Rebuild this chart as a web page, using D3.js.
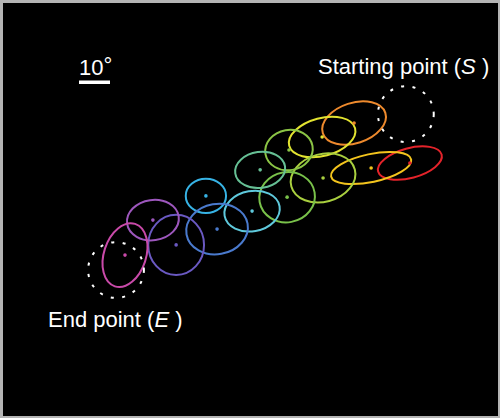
<!DOCTYPE html>
<html lang="en">
<head>
	<meta charset="UTF-8" />
	<script src="https://d3js.org/d3.v7.min.js"></script>
	<style type="text/css">
		body { margin: 0; background: #fff; }
		text { font-family: "Liberation Sans", Arial, Helvetica, sans-serif; fill: #fff; }
	</style>
	<title>Gaze path</title>
</head>
<body>
<script type="text/javascript">
	// Fixation ellipses, in degrees of visual angle (origin at end point, y up)
	var fixCx    = [94.8, 76.8, 82.3, 66.5, 66.8, 55.8, 55.2, 46.5, 43.9, 29.0, 32.6, 19.4, 11.9, 2.9];
	var fixCy    = [34.5, 47.4, 32.9, 42.9, 29.7, 38.7, 23.5, 32.3, 19.0, 23.9, 13.2, 8.1, 16.1, 4.8];
	var fixRx    = [10.6, 10.6, 13.2, 11.0, 10.6, 7.7, 9.0, 8.1, 9.0, 6.5, 10.0, 9.0, 8.4, 10.6];
	var fixRy    = [4.8, 6.5, 4.5, 6.1, 7.7, 6.5, 8.1, 5.8, 6.5, 5.5, 8.1, 9.7, 6.5, 6.8];
	var fixAngle = [15, 18, 12, 15, 15, 10, 10, 8, 10, 0, 10, 0, 8, 72];

	// Start and end points
	var pointNames = ["S", "E"];
	var pointX = [93.5, 0];
	var pointY = [50.3, 0];
	var pointR = [9.0, 9.0];

	// Scale bar length (degrees)
	var scaleBarDeg = 10;

	var W = 500, H = 418;

	var colors = ["#e4232a", "#ee8a2d", "#f3c41d", "#e2e330", "#a9cf3f", "#8bc445",
	              "#79c14a", "#66c095", "#5fc9dc", "#37b3e5", "#4a7acd", "#6a59c2",
	              "#9d57bd", "#c94aa9"];

	// 3.1 px per degree
	var xScale = d3.scaleLinear().domain([0, 100]).range([116, 426]);
	var yScale = d3.scaleLinear().domain([0, 100]).range([270, -40]);
	function len(d) { return xScale(d) - xScale(0); }

	var svg = d3.select("body").append("svg")
		.attr("width", W)
		.attr("height", H);

	// frame
	svg.append("rect")
		.attr("width", W).attr("height", H)
		.attr("fill", "#b4b4b4");
	svg.append("rect")
		.attr("x", 3).attr("y", 3)
		.attr("width", W - 5).attr("height", H - 5)
		.attr("fill", "#000");

	var fix = d3.range(fixCx.length);

	// ellipses
	svg.selectAll(".fix")
		.data(fix)
		.enter()
		.append("ellipse")
		.attr("class", "fix")
		.attr("transform", function(i) {
			return "translate(" + xScale(fixCx[i]) + "," + yScale(fixCy[i]) + ") rotate(" + (-fixAngle[i]) + ")";
		})
		.attr("rx", function(i) { return len(fixRx[i]); })
		.attr("ry", function(i) { return len(fixRy[i]); })
		.attr("fill", "none")
		.attr("stroke", function(i) { return colors[i]; })
		.attr("stroke-width", 2);

	// centre dots
	svg.selectAll(".dot")
		.data(fix)
		.enter()
		.append("circle")
		.attr("class", "dot")
		.attr("cx", function(i) { return xScale(fixCx[i]); })
		.attr("cy", function(i) { return yScale(fixCy[i]); })
		.attr("r", 1.8)
		.attr("fill", function(i) { return colors[i]; });

	// dashed start / end circles
	svg.selectAll(".pt")
		.data(pointNames)
		.enter()
		.append("circle")
		.attr("class", "pt")
		.attr("cx", function(d, i) { return xScale(pointX[i]); })
		.attr("cy", function(d, i) { return yScale(pointY[i]); })
		.attr("r", function(d, i) { return len(pointR[i]); })
		.attr("fill", "none")
		.attr("stroke", "#fff")
		.attr("stroke-width", 2)
		.attr("stroke-dasharray", "3,8.5");

	// labels
	var sLab = svg.append("text")
		.attr("x", 318).attr("y", 74)
		.attr("font-size", 22);
	sLab.append("tspan").text("Starting point (");
	sLab.append("tspan").attr("font-style", "italic").text("S");
	sLab.append("tspan").text(" )");

	var eLab = svg.append("text")
		.attr("x", 48).attr("y", 327)
		.attr("font-size", 22);
	eLab.append("tspan").text("End point (");
	eLab.append("tspan").attr("font-style", "italic").text("E");
	eLab.append("tspan").text(" )");

	// scale bar
	svg.append("rect")
		.attr("x", 79).attr("y", 80.5)
		.attr("width", len(scaleBarDeg)).attr("height", 3.5)
		.attr("fill", "#fff");

	var bLab = svg.append("text")
		.attr("x", 79).attr("y", 75)
		.attr("font-size", 22);
	bLab.append("tspan").text(scaleBarDeg);
	bLab.append("tspan").attr("dy", -2).text("°");
</script>
</body>
</html>
